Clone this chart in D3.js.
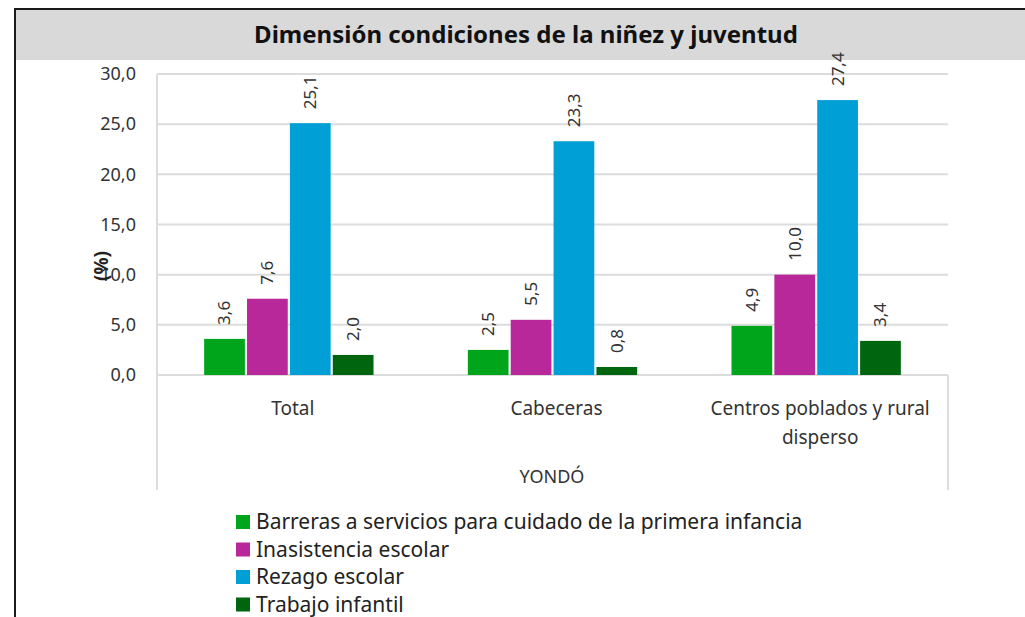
<!DOCTYPE html>
<html>
<head>
<meta charset="utf-8">
<script src="https://cdn.jsdelivr.net/npm/d3@7"></script>
<style>
  body { margin: 0; background: #fff; }
  svg { display: block; font-family: 'Noto Sans', 'Open Sans', sans-serif; }
</style>
</head>
<body>
<svg width="1025" height="617"></svg>
<script>
let categories = ['Total', 'Cabeceras', 'Centros poblados y rural disperso'];
let categoryLines = [['Total'], ['Cabeceras'], ['Centros poblados y rural', 'disperso']];
let seriesNames = [
  'Barreras a servicios para cuidado de la primera infancia',
  'Inasistencia escolar',
  'Rezago escolar',
  'Trabajo infantil'
];
let seriesColors = ['#00a51c', '#b8289a', '#00a0d6', '#00650f'];
let barreras = [3.6, 2.5, 4.9];
let inasistencia = [7.6, 5.5, 10.0];
let rezago = [25.1, 23.3, 27.4];
let trabajo = [2.0, 0.8, 3.4];
let yTicks = [0, 5, 10, 15, 20, 25, 30];

let seriesValues = [barreras, inasistencia, rezago, trabajo];

let svg = d3.select('svg');
let plotLeft = 157, plotRight = 948, plotTop = 74, plotBottom = 375;

// frame and title band
svg.append('rect')
  .attr('x', 15).attr('y', 9)
  .attr('width', 1100).attr('height', 700)
  .attr('fill', '#fff')
  .attr('stroke', '#1a1a1a')
  .attr('stroke-width', 2);

svg.append('rect')
  .attr('x', 16).attr('y', 10)
  .attr('width', 1100).attr('height', 50)
  .attr('fill', '#d9d9d9');

svg.append('text')
  .attr('x', 526).attr('y', 35)
  .attr('dy', '0.35em')
  .attr('text-anchor', 'middle')
  .style('font-size', '24px')
  .style('font-weight', 'bold')
  .style('fill', '#111')
  .text('Dimensión condiciones de la niñez y juventud');

let x0 = d3.scaleBand().domain(categories).range([plotLeft, plotRight]);
let x1 = d3.scaleBand().domain(seriesNames).range([0, x0.bandwidth()]).paddingInner(0.05).paddingOuter(1.1);
let y = d3.scaleLinear().domain([0, 30]).range([plotBottom, plotTop]);

// gridlines
svg.append('g')
  .selectAll('line')
  .data(yTicks)
  .enter()
  .append('line')
  .attr('x1', plotLeft).attr('x2', plotRight)
  .attr('y1', d => y(d)).attr('y2', d => y(d))
  .attr('stroke', '#dcdcdc')
  .attr('stroke-width', 2);

// axis boundary lines
svg.append('line')
  .attr('x1', plotLeft).attr('x2', plotLeft)
  .attr('y1', plotTop).attr('y2', 490)
  .attr('stroke', '#dcdcdc').attr('stroke-width', 2);
svg.append('line')
  .attr('x1', plotRight).attr('x2', plotRight)
  .attr('y1', plotBottom).attr('y2', 490)
  .attr('stroke', '#dcdcdc').attr('stroke-width', 2);

// y axis
let yAxis = d3.axisLeft(y)
  .tickValues(yTicks)
  .tickSize(0)
  .tickPadding(21)
  .tickFormat(d => d3.format('.1f')(d).replace('.', ','));

let yg = svg.append('g')
  .attr('transform', `translate(${plotLeft},0)`)
  .call(yAxis);
yg.select('.domain').remove();
yg.selectAll('text')
  .style('font-size', '18px')
  .style('fill', '#333')
  .style('font-family', "'Noto Sans', sans-serif");

svg.append('text')
  .attr('transform', 'translate(101,266) rotate(-90)')
  .attr('text-anchor', 'middle')
  .attr('dy', '0.35em')
  .style('font-size', '19px')
  .style('font-weight', 'bold')
  .style('fill', '#222')
  .text('(%)');

// bars
let groups = svg.selectAll('.group')
  .data(categories)
  .enter()
  .append('g')
  .attr('class', 'group')
  .attr('transform', d => `translate(${x0(d)},0)`);

groups.selectAll('rect')
  .data((c, ci) => seriesNames.map((s, si) => ({ s: s, si: si, v: seriesValues[si][ci] })))
  .enter()
  .append('rect')
  .attr('x', d => x1(d.s))
  .attr('y', d => y(d.v))
  .attr('width', x1.bandwidth())
  .attr('height', d => y(0) - y(d.v))
  .attr('fill', d => seriesColors[d.si]);

groups.selectAll('.lbl')
  .data((c, ci) => seriesNames.map((s, si) => ({ s: s, si: si, v: seriesValues[si][ci] })))
  .enter()
  .append('text')
  .attr('class', 'lbl')
  .attr('transform', d => `translate(${x1(d.s) + x1.bandwidth() / 2},${y(d.v) - 14}) rotate(-90)`)
  .attr('dy', '0.35em')
  .attr('text-anchor', 'start')
  .style('font-size', '17px')
  .style('fill', '#333')
  .text(d => d3.format('.1f')(d.v).replace('.', ','));

// category labels
svg.selectAll('.cat')
  .data(categoryLines)
  .enter()
  .append('text')
  .attr('class', 'cat')
  .attr('x', (d, i) => x0(categories[i]) + x0.bandwidth() / 2 + 4)
  .attr('y', 408)
  .attr('text-anchor', 'middle')
  .style('font-size', '19px')
  .style('fill', '#333')
  .selectAll('tspan')
  .data(d => d)
  .enter()
  .append('tspan')
  .attr('x', function() { return d3.select(this.parentNode).attr('x'); })
  .attr('dy', (d, i) => i === 0 ? '0.35em' : '29px')
  .text(d => d);

svg.append('text')
  .attr('x', 552).attr('y', 477)
  .attr('dy', '0.35em')
  .attr('text-anchor', 'middle')
  .style('font-size', '18px')
  .style('fill', '#333')
  .text('YONDÓ');

// legend
let legend = svg.selectAll('.legend')
  .data(seriesNames)
  .enter()
  .append('g')
  .attr('class', 'legend')
  .attr('transform', (d, i) => `translate(236,${522 + i * 27.5})`);

legend.append('rect')
  .attr('x', 0).attr('y', -7)
  .attr('width', 14).attr('height', 14)
  .attr('fill', (d, i) => seriesColors[i]);

legend.append('text')
  .attr('x', 20)
  .attr('dy', '0.35em')
  .style('font-size', '21px')
  .style('fill', '#222')
  .text(d => d);
</script>
</body>
</html>
